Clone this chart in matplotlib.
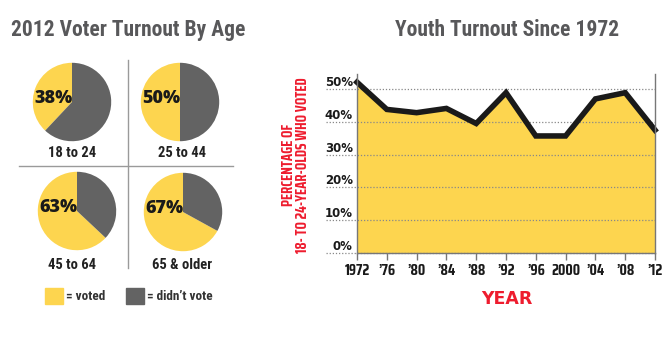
import matplotlib
matplotlib.use("Agg")
import matplotlib.pyplot as plt
from matplotlib.patches import Rectangle

# data
age_groups = ["18 to 24", "25 to 44", "45 to 64", "65 & older"]
voted_pct = [38, 50, 63, 67]
years = [1972, 1976, 1980, 1984, 1988, 1992, 1996, 2000, 2004, 2008, 2012]
year_labels = ["1972", "\u201976", "\u201980", "\u201984", "\u201988", "\u201992",
               "\u201996", "2000", "\u201904", "\u201908", "\u201912"]
youth_turnout = [52.1, 43.8, 42.8, 44.1, 39.5, 48.9, 35.7, 35.7, 47.0, 48.9, 37.5]
y_ticks = [0, 10, 20, 30, 40, 50]

YELLOW = "#fdd54f"
GRAY = "#636363"
TITLE_GRAY = "#58585a"
RED = "#ee1c2e"

COND = ["Roboto Condensed", "DejaVu Sans"]
XCOND = ["Saira Condensed", "Roboto Condensed", "DejaVu Sans"]
WIDE = ["DejaVu Sans"]
plt.rcParams["font.family"] = COND

W, H = 670, 339
fig = plt.figure(figsize=(W / 100, H / 100), dpi=100)


def px_axes(x0, y0, w, h):
    # x0,y0 = top-left in pixels
    return fig.add_axes([x0 / W, 1 - (y0 + h) / H, w / W, h / H])


# ---- left panel ----
fig.text(128 / W, 1 - 30 / H, "2012 Voter Turnout By Age", ha="center", va="center",
         fontsize=15.5, fontweight="bold", color=TITLE_GRAY)

centers = [(72, 102), (180, 102), (77, 211), (183, 212)]
label_pos = [(72, 153), (182, 153), (72, 265), (182, 265)]
r = 40
for (cx, cy), pct, name, (lx, ly) in zip(centers, voted_pct, age_groups, label_pos):
    ax = px_axes(cx - r, cy - r, 2 * r, 2 * r)
    ax.pie([pct, 100 - pct], colors=[YELLOW, GRAY], startangle=90,
           counterclock=True, radius=1, wedgeprops=dict(linewidth=0))
    ax.set_xlim(-1.02, 1.02)
    ax.set_ylim(-1.02, 1.02)
    ax.set_aspect("equal")
    ax.axis("off")
    ax.text(-0.48, 0.1, f"{pct}%", ha="center", va="center", fontsize=13,
            fontweight="heavy", color="#1a1a1a", family=["Open Sans", "DejaVu Sans"])
    fig.text(lx / W, 1 - ly / H, name, ha="center", va="center", fontsize=10.5,
             fontweight="bold", color="#222222")

# divider lines
fig.add_artist(plt.Line2D([128 / W, 128 / W], [1 - 60 / H, 1 - 268 / H],
                          color="#9a9a9a", lw=1))
fig.add_artist(plt.Line2D([19 / W, 233 / W], [1 - 166 / H, 1 - 166 / H],
                          color="#9a9a9a", lw=1))

# legend
fig.add_artist(Rectangle((45 / W, 1 - 304 / H), 18 / W, 16 / H, color=YELLOW,
                         transform=fig.transFigure))
fig.text(66 / W, 1 - 296 / H, "= voted", va="center", fontsize=9.5,
         fontweight="bold", color="#333333")
fig.add_artist(Rectangle((126 / W, 1 - 304 / H), 18 / W, 16 / H, color=GRAY,
                         transform=fig.transFigure))
fig.text(147 / W, 1 - 296 / H, "= didn\u2019t vote", va="center", fontsize=9.5,
         fontweight="bold", color="#333333")

# ---- right panel ----
fig.text(507 / W, 1 - 30 / H, "Youth Turnout Since 1972", ha="center", va="center",
         fontsize=15.5, fontweight="bold", color=TITLE_GRAY)

ax = px_axes(357, 74, 298, 179)
ax.fill_between(years, youth_turnout, 0, color=YELLOW, linewidth=0, zorder=1)
ax.plot(years, youth_turnout, color="#1a1a1a", lw=4, solid_joinstyle="miter",
        zorder=3, clip_on=False)
ax.set_xlim(1972, 2012)
ax.set_ylim(0, 54.6)
ax.set_yticks(y_ticks)
ax.set_yticklabels([f"{t}%" for t in y_ticks], fontsize=8.5, fontweight="bold",
                   color="#1a1a1a", family=WIDE)
for lab in ax.get_yticklabels():
    lab.set_verticalalignment("bottom")
ax.set_xticks(years)
ax.set_xticklabels(year_labels, fontsize=11, fontweight="bold", color="#1a1a1a",
                   family=XCOND)
for t in y_ticks:
    ax.axhline(t, xmin=-0.105, xmax=1, color="#888888", lw=0.9, ls=(0, (1, 1.5)),
               zorder=2, clip_on=False)
ax.tick_params(axis="y", length=0, pad=3)
ax.tick_params(axis="x", length=5, width=1, color="#777777", pad=3)
for s in ["left", "right", "bottom"]:
    ax.spines[s].set_color("#777777")
    ax.spines[s].set_linewidth(1)
    ax.spines[s].set_zorder(4)
ax.spines["top"].set_visible(False)

fig.text(507 / W, 1 - 299 / H, "YEAR", ha="center", va="center", fontsize=12.5,
         fontweight="bold", color=RED, family=WIDE)
fig.text(296 / W, 1 - 165 / H, "PERCENTAGE OF\n18- TO 24-YEAR-OLDS WHO VOTED",
         ha="center", va="center", rotation=90, fontsize=10.5, fontweight="bold",
         color=RED, linespacing=1.0, family=XCOND)

fig.savefig("out.png", dpi=100)
